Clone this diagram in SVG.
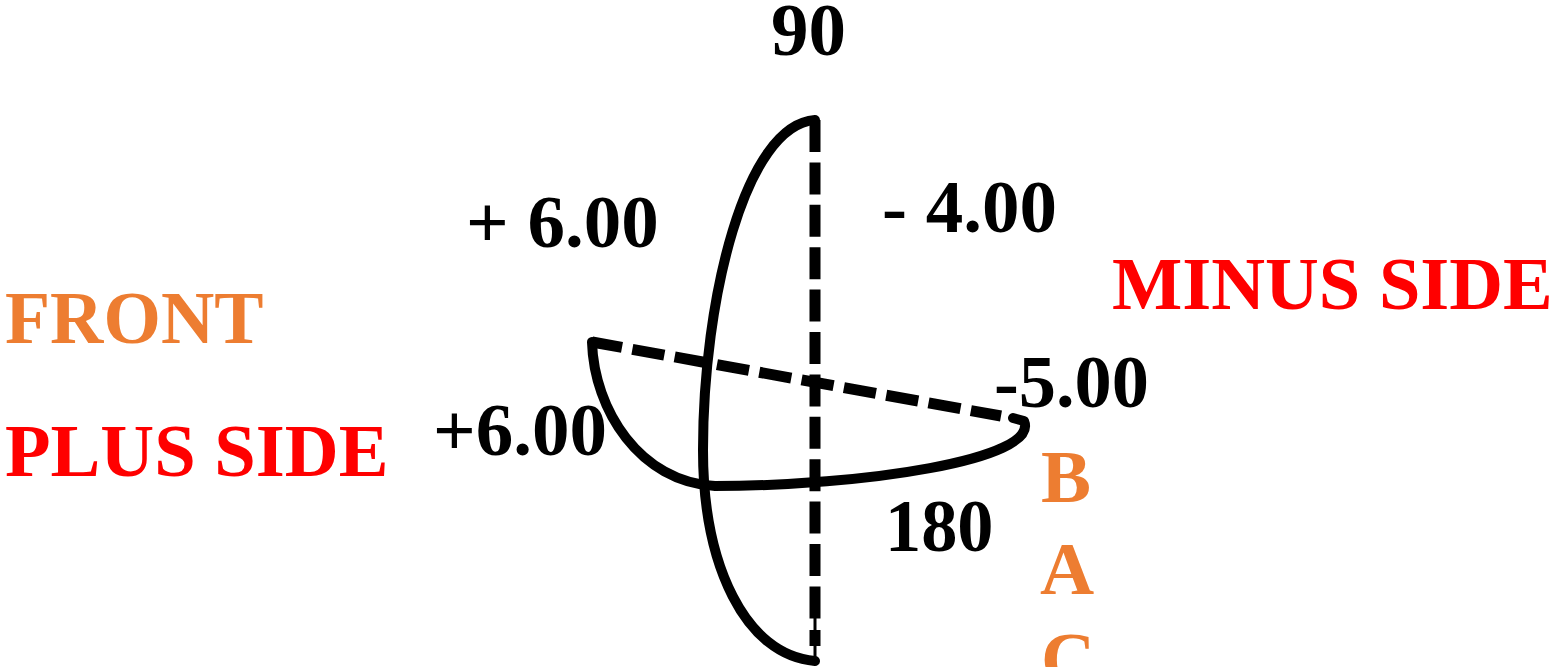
<svg xmlns="http://www.w3.org/2000/svg" width="1554" height="667" viewBox="0 0 1554 667">
<style>
text{font-family:"Liberation Serif","Times New Roman",serif;font-weight:bold;font-size:75px}
.k{fill:#000}.r{fill:#ff0000}.o{fill:#ed7d31}
.c{fill:none;stroke:#000;stroke-width:10;stroke-linecap:round;stroke-linejoin:round}
.d{fill:none;stroke:#000;stroke-width:11;stroke-dasharray:32 10.4}
.e{fill:none;stroke:#000;stroke-width:11;stroke-dasharray:32.5 10.5;stroke-dashoffset:2}
</style>
<rect width="1554" height="667" fill="#fff"/>
<g id="connectors">
<path class="c" d="M815 120C745 125 703 300 703 450C703 565 745 655 815 661"/>
<path class="c" d="M592 342C594 410 640 482 715 486C860 486 1040 460 1024 421L1013 418"/>
<path class="d" d="M815 120V619"/>
<path d="M815 630V646" fill="none" stroke="#000" stroke-width="11"/>
<path class="e" d="M592 342L1001 416"/>
<path d="M815 615V661" fill="none" stroke="#000" stroke-width="3"/>
</g>
<g id="label-90"><text class="k" x="771" y="55">90</text></g>
<g id="label-plus-600-top"><text class="k" x="466" y="247">+ 6.00</text></g>
<g id="label-minus-400"><text class="k" x="882" y="232">- 4.00</text></g>
<g id="label-minus-side"><text class="r" x="1112" y="309" textLength="440.8" lengthAdjust="spacingAndGlyphs">MINUS SIDE</text></g>
<g id="label-front"><text class="o" x="5" y="343" textLength="258.5" lengthAdjust="spacingAndGlyphs">FRONT</text></g>
<g id="label-minus-500"><text class="k" x="994" y="407" textLength="155" lengthAdjust="spacingAndGlyphs">-5.00</text></g>
<g id="label-plus-600-left"><text class="k" x="433" y="455">+6.00</text></g>
<g id="label-plus-side"><text class="r" x="5" y="476" textLength="383.5" lengthAdjust="spacingAndGlyphs">PLUS SIDE</text></g>
<g id="label-b"><text class="o" x="1041" y="502">B</text></g>
<g id="label-180"><text class="k" x="885" y="551" textLength="108.5" lengthAdjust="spacingAndGlyphs">180</text></g>
<g id="label-a"><text class="o" x="1040" y="594">A</text></g>
<g id="label-c"><text class="o" x="1041" y="684">C</text></g>
</svg>
